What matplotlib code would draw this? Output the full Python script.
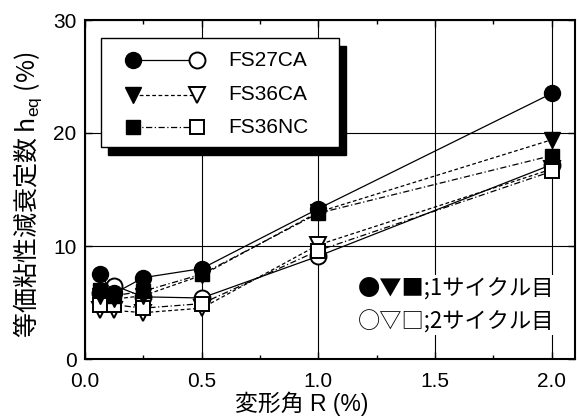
import numpy as np
import matplotlib.pyplot as plt
from matplotlib.patches import Rectangle
from matplotlib.lines import Line2D

plt.rcParams['font.family'] = ['Liberation Sans', 'Noto Sans CJK JP', 'DejaVu Sans']
plt.rcParams['mathtext.fontset'] = 'custom'
plt.rcParams['mathtext.rm'] = 'Liberation Sans'
plt.rcParams['mathtext.it'] = 'Liberation Sans'

# 変形角 R (%)
R = [0.0625, 0.125, 0.25, 0.5, 1.0, 2.0]

# 1サイクル目 / 2サイクル目
fs27ca_1 = [7.5, 5.8, 7.2, 8.0, 13.3, 23.5]
fs27ca_2 = [5.8, 6.5, 5.5, 5.4, 9.1, 17.2]
fs36ca_1 = [5.6, 5.3, 5.6, 7.4, 13.0, 19.4]
fs36ca_2 = [4.3, 4.3, 4.1, 4.5, 10.1, 16.8]
fs36nc_1 = [6.1, 5.6, 6.0, 7.5, 12.9, 18.0]
fs36nc_2 = [4.8, 4.8, 4.5, 4.9, 9.6, 16.6]

labels = ['FS27CA', 'FS36CA', 'FS36NC']
markers = ['o', 'v', 's']
msizes = [11.5, 12, 10]
lstyles = ['-', (0, (3, 2)), (0, (5, 2, 1, 2))]

fig = plt.figure(figsize=(5.79, 4.19), dpi=100)
ax = fig.add_axes([85/579, 60/419, 490/579, 339/419])

series = [(fs27ca_1, fs27ca_2), (fs36ca_1, fs36ca_2), (fs36nc_1, fs36nc_2)]
for (s1, s2), m, ms, ls in zip(series, markers, msizes, lstyles):
    ax.plot(R, s2, linestyle=ls, color='k', lw=0.9, marker=m, ms=ms,
            mfc='white', mec='k', mew=1.4, zorder=3)
    ax.plot(R, s1, linestyle=ls, color='k', lw=0.9, marker=m, ms=ms,
            mfc='k', mec='k', zorder=4)

ax.set_xlim(0, 2.1)
ax.set_ylim(0, 30)
ax.set_xticks([0.0, 0.5, 1.0, 1.5, 2.0])
ax.set_xticklabels(['0.0', '0.5', '1.0', '1.5', '2.0'])
ax.set_xticks(np.arange(0.25, 2.1, 0.5), minor=True)
ax.set_yticks([0, 10, 20, 30])
ax.grid(True, which='major', color='k', lw=0.8)
ax.tick_params(direction='in', top=True, right=True, labelsize=15, length=5, width=1)
ax.tick_params(axis='x', pad=9)
ax.tick_params(axis='y', pad=6)
ax.tick_params(which='minor', direction='in', top=True, length=3, width=1)
for sp in ax.spines.values():
    sp.set_linewidth(1.5)

ax.set_xlabel('変形角 R (%)', fontsize=16.5)
ax.xaxis.label.set_va('center')
ax.xaxis.set_label_coords(0.443, -0.133)
ax.set_ylabel('等価粘性減衰定数 h$_{\\mathrm{eq}}$ (%)', fontsize=18,
              family='Noto Sans CJK JP')
ax.yaxis.label.set_va('center')
ax.yaxis.set_label_coords(-57/490, 0.484)

# legend box with shadow
bx0, by0, bw, bh = 0.0327, 0.625, 0.486, 0.322
ax.add_patch(Rectangle((bx0 + 0.0143, by0 - 0.0236), bw, bh, transform=ax.transAxes,
                       facecolor='k', edgecolor='k', zorder=6))
ax.add_patch(Rectangle((bx0, by0), bw, bh, transform=ax.transAxes,
                       facecolor='white', edgecolor='k', lw=1.0, zorder=7))
rows = [0.881, 0.780, 0.683]
for yy, lab, m, ms, ls in zip(rows, labels, markers, msizes, lstyles):
    ax.add_line(Line2D([0.098, 0.2286], [yy, yy], transform=ax.transAxes, color='k',
                       lw=0.9, linestyle=ls, zorder=8))
    ax.add_line(Line2D([0.098], [yy], transform=ax.transAxes, marker=m, ms=ms,
                       mfc='k', mec='k', zorder=9))
    ax.add_line(Line2D([0.2286], [yy], transform=ax.transAxes, marker=m, ms=ms,
                       mfc='white', mec='k', mew=1.4, zorder=9))
    ax.text(0.292, yy, lab, transform=ax.transAxes, fontsize=15, va='center', zorder=9)

ax.text(0.958, 0.159, '●▼■;1サイクル目\n○▽□;2サイクル目', transform=ax.transAxes,
        fontsize=16, ha='right', va='center', linespacing=1.6,
        family=['Noto Sans CJK JP', 'DejaVu Sans'],
        bbox=dict(facecolor='white', edgecolor='none', pad=1), zorder=9)

fig.savefig('out.png', dpi=100)
